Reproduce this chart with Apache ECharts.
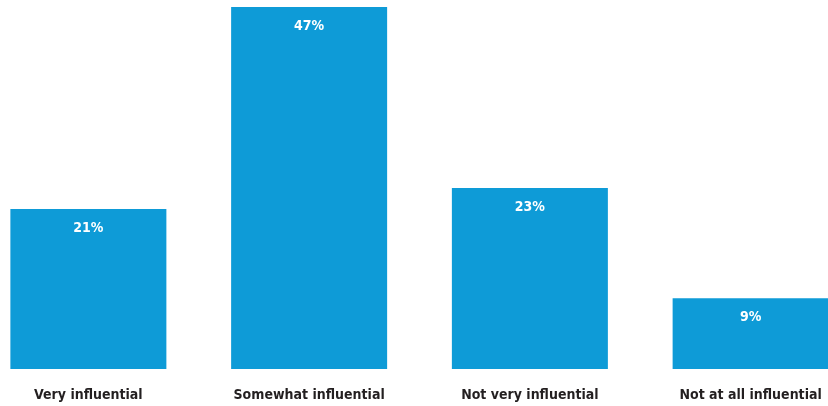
<!DOCTYPE html>
<html>
<head>
<meta charset="utf-8">
<script src="https://cdn.jsdelivr.net/npm/echarts@6/dist/echarts.min.js"></script>
<style>
  html, body { margin: 0; padding: 0; background: #fff; overflow: hidden; width: 828px; height: 406px; position: relative; }
  /* 画布比窗口宽，左右两边裁掉一点，使柱子位置和原图一致 */
  #main { width: 883px; height: 406px; position: absolute; left: -22px; top: 0; }
</style>
</head>
<body>
<div id="main"></div>
<script>
  // 数据（柱高按图量出，标签四舍五入）
  var categories = ['Very influential', 'Somewhat influential', 'Not very influential', 'Not at all influential']
  var values = [20.6, 46.6, 23.3, 9.1]

  var fontFamily = '"DejaVu Sans Condensed", "Liberation Sans Narrow", sans-serif'
  var myChart = echarts.init(document.getElementById('main'))
  myChart.setOption({
    animation: false,
    grid: {
      left: 0,
      right: 0,
      top: 7,
      bottom: 37,
      containLabel: false
    },
    xAxis: {
      type: 'category',
      data: categories,
      axisLine: { show: false },
      axisTick: { show: false },
      axisLabel: {
        interval: 0,
        margin: 19,
        color: '#231f20',
        fontFamily: fontFamily,
        fontWeight: 'bold',
        fontSize: 14
      }
    },
    yAxis: {
      type: 'value',
      min: 0,
      max: 46.6,
      show: false,
      splitLine: { show: false }
    },
    series: [{
      type: 'bar',
      data: values,
      barWidth: 156,
      itemStyle: { color: '#0e9bd7' },
      label: {
        show: true,
        position: 'insideTop',
        distance: 12,
        formatter: function (p) {
          return Math.round(p.value) + '%'
        },
        color: '#ffffff',
        fontFamily: fontFamily,
        fontWeight: 'bold',
        fontSize: 14
      }
    }]
  })
</script>
</body>
</html>
